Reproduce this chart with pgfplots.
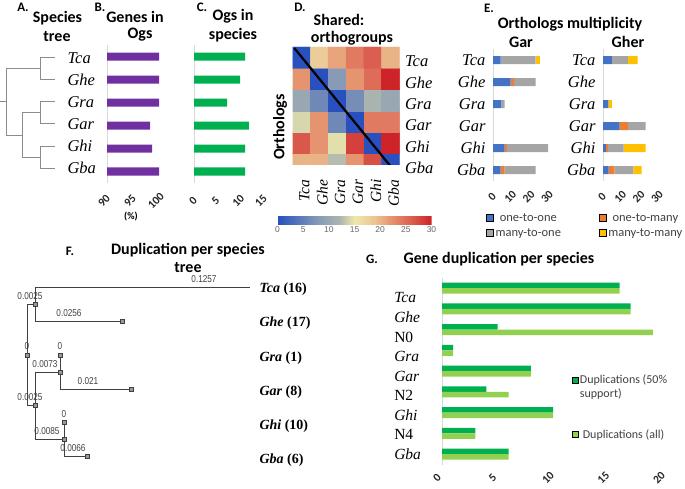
\documentclass[border=0pt]{standalone}
\usepackage{fontspec}
\setmainfont{Liberation Serif}
\newfontfamily\calfont{Carlito}
\newfontfamily\arsfont{Liberation Sans}
\newfontfamily\narrowfont[FakeStretch=0.82]{Liberation Sans}
\usepackage{pgfplots}
\pgfplotsset{compat=1.18}
\definecolor{purp}{HTML}{7030A0}
\definecolor{dgreen}{HTML}{00B050}
\definecolor{lgreen}{HTML}{92D050}
\definecolor{eblue}{HTML}{4472C4}
\definecolor{eorange}{HTML}{ED7D31}
\definecolor{egray}{HTML}{A5A5A5}
\definecolor{eyellow}{HTML}{FFC000}
\newcommand\ttl{\calfont\bfseries\fontsize{16}{18}\selectfont}
\newcommand\lett{\calfont\bfseries\fontsize{13}{15}\selectfont}
\newcommand\spc{\rmfamily\itshape\fontsize{16.5}{18}\selectfont}
\newcommand\tk{\calfont\bfseries\fontsize{11.5}{13}\selectfont}
\newcommand\brl{\narrowfont\fontsize{10}{12}\selectfont}
\newcommand\fsp{\rmfamily\bfseries\fontsize{14}{16}\selectfont}
\newcommand\lgf{\calfont\fontsize{12.5}{15}\selectfont}

\pgfplotsset{
 canvas/.style={at={(0pt,0pt)}, anchor=south west, scale only axis, width=685pt, height=488pt,
   xmin=0, xmax=685, ymin=0, ymax=488, y dir=reverse, hide axis, clip=false},
 lcanvas/.style={at={(0pt,0pt)}, anchor=south west, scale only axis, width=685pt, height=488pt,
   xmin=0, xmax=1, ymin=0, ymax=1, hide axis, clip=false},
 bars/.style={anchor=south west, scale only axis, ymin=-0.5, ymax=5.5, ytick=\empty,
   axis x line*=bottom, axis y line*=left, x axis line style={draw=none},
   y axis line style={draw=black!15, line width=0.7pt}, tick style={draw=none},
   /pgf/number format/assume math mode=true},
 tklbl/.style 2 args={xticklabel style={font=\tk, text=black!85, xshift=#1, yshift=#2, rotate=45, anchor=center}},
}

\begin{document}
\begin{tikzpicture}
\useasboundingbox (0,0) rectangle (685pt,488pt);

% ---------- canvas: trees and titles ----------
\begin{axis}[canvas]
% tree A
\addplot[black!45, line width=0.9pt] coordinates {(55,57.3) (40,57.3) (40,79.3) (55,79.3)};
\addplot[black!45, line width=0.9pt] coordinates {(40,68) (6,68) (6,135) (22.7,135)};
\addplot[black!45, line width=0.9pt] coordinates {(55,101.7) (40,101.7) (40,123.3) (55,123.3)};
\addplot[black!45, line width=0.9pt] coordinates {(40,112.5) (22.7,112.5) (22.7,157) (40,157)};
\addplot[black!45, line width=0.9pt] coordinates {(55,146) (40,146) (40,168) (55,168)};
\addplot[black!45, line width=0.9pt] coordinates {(0,101.7) (6,101.7)};
% tree F
\addplot[black!75, line width=0.9pt] coordinates {(250,287) (35,287) (35,321) (122,321)};
\addplot[black!75, line width=0.9pt] coordinates {(35,304) (27,304) (27,405) (35,405)};
\addplot[black!75, line width=0.9pt] coordinates {(60,372) (35,372) (35,439) (64,439)};
\addplot[black!75, line width=0.9pt] coordinates {(60,355) (60,389) (131,389)};
\addplot[black!75, line width=0.9pt] coordinates {(64,422) (64,456) (87,456)};
\addplot[only marks, mark=square*, mark size=2.2pt, mark options={fill=black!40, draw=black!75, line width=0.5pt}]
  coordinates {(35,304) (122,321) (27,355) (60,355) (60,372) (131,389) (35,405) (64,422) (64,439) (87,456)};
% branch labels F
\node[font=\brl, text=black!75] at (axis cs:204,279) {0.1257};
\node[font=\brl, text=black!75] at (axis cs:30,296) {0.0025};
\node[font=\brl, text=black!75] at (axis cs:69,313) {0.0256};
\node[font=\brl, text=black!75] at (axis cs:27,346) {0};
\node[font=\brl, text=black!75] at (axis cs:60,346) {0};
\node[font=\brl, text=black!75] at (axis cs:45,364) {0.0073};
\node[font=\brl, text=black!75] at (axis cs:88,381) {0.021};
\node[font=\brl, text=black!75] at (axis cs:30,397) {0.0025};
\node[font=\brl, text=black!75] at (axis cs:64,414) {0};
\node[font=\brl, text=black!75] at (axis cs:47,431) {0.0085};
\node[font=\brl, text=black!75] at (axis cs:73,448) {0.0066};
% species labels F
\node[font=\fsp, anchor=west] at (axis cs:256,289) {\textit{Tca} (16)};
\node[font=\fsp, anchor=west] at (axis cs:256,323) {\textit{Ghe} (17)};
\node[font=\fsp, anchor=west] at (axis cs:256,358) {\textit{Gra} (1)};
\node[font=\fsp, anchor=west] at (axis cs:256,392) {\textit{Gar} (8)};
\node[font=\fsp, anchor=west] at (axis cs:256,426) {\textit{Ghi} (10)};
\node[font=\fsp, anchor=west] at (axis cs:256,460) {\textit{Gba} (6)};
% species labels A
\node[font=\spc, anchor=west] at (axis cs:64,58) {Tca};
\node[font=\spc, anchor=west] at (axis cs:64,80) {Ghe};
\node[font=\spc, anchor=west] at (axis cs:64,102) {Gra};
\node[font=\spc, anchor=west] at (axis cs:64,124) {Gar};
\node[font=\spc, anchor=west] at (axis cs:64,146) {Ghi};
\node[font=\spc, anchor=west] at (axis cs:64,168) {Gba};
% titles
\node[font=\lett] at (axis cs:23,7) {A.};
\node[font=\ttl] at (axis cs:57.5,18) {Species};
\node[font=\ttl] at (axis cs:57,37) {tree};
\node[font=\lett] at (axis cs:100,7) {B.};
\node[font=\ttl] at (axis cs:135,17) {Genes in};
\node[font=\ttl] at (axis cs:140,35) {Ogs};
\node[font=\calfont\bfseries\fontsize{10}{12}\selectfont] at (axis cs:131,217) {(\%)};
\node[font=\lett] at (axis cs:202,7) {C.};
\node[font=\ttl] at (axis cs:233,16) {Ogs in};
\node[font=\ttl] at (axis cs:233,35) {species};
\node[font=\lett] at (axis cs:300,7) {D.};
\node[font=\ttl] at (axis cs:339,20) {Shared:};
\node[font=\ttl] at (axis cs:352,38) {orthogroups};
\node[font=\ttl, rotate=90] at (axis cs:280,127) {Orthologs};
\node[font=\lett] at (axis cs:489,8) {E.};
\node[font=\ttl] at (axis cs:570,24) {Orthologs multiplicity};
\node[font=\ttl] at (axis cs:521,42) {Gar};
\node[font=\ttl] at (axis cs:628,42) {Gher};
\node[font=\lett] at (axis cs:70,251) {F.};
\node[font=\ttl] at (axis cs:188,250) {Duplication per species};
\node[font=\ttl] at (axis cs:188,268) {tree};
\node[font=\lett] at (axis cs:372,259) {G.};
\node[font=\ttl] at (axis cs:499,259) {Gene duplication per species};
\end{axis}

% ---------- B ----------
\begin{axis}[bars, xbar, tklbl={-3pt}{-18pt}, at={(107pt,305pt)}, width=52pt, height=138pt, xmin=90, xmax=100,
  xtick={90,95,100}, bar width=8pt]
\addplot[fill=purp, draw=none] coordinates {(100,5) (100,4) (100,3) (98.3,2) (98.7,1) (100,0)};
\end{axis}

% ---------- C ----------
\begin{axis}[bars, xbar, tklbl={-1pt}{-18pt}, at={(194pt,305pt)}, width=68pt, height=138pt, xmin=0, xmax=15,
  xtick={0,5,10,15}, bar width=8pt]
\addplot[fill=dgreen, draw=none] coordinates {(11.3,5) (10.2,4) (7.3,3) (12.1,2) (11.3,1) (11.3,0)};
\end{axis}

% ---------- D heatmap ----------
\begin{axis}[at={(292.5pt,323pt)}, anchor=south west, scale only axis, width=107pt, height=118pt,
  xmin=-0.5, xmax=5.5, ymin=-0.05, ymax=5.5,
  axis line style={draw=none}, tick style={draw=none},
  xtick={0,...,5}, xticklabels={Tca,Ghe,Gra,Gar,Ghi,Gba},
  ytick={0,...,5}, yticklabels={Gba,Ghi,Gar,Gra,Ghe,Tca}, yticklabel pos=right,
  xticklabel style={font=\rmfamily\itshape\fontsize{15.5}{17}\selectfont, xshift=3pt, yshift=-11pt, rotate=90, anchor=east},
  yticklabel style={font=\spc, anchor=west, yshift=-4pt, xshift=2pt},
  colormap={hm}{rgb255(0cm)=(40,80,190) rgb255(8cm)=(135,155,182) rgb255(12cm)=(170,180,175)
    rgb255(15cm)=(238,232,172) rgb255(19cm)=(236,195,145) rgb255(22cm)=(230,148,112)
    rgb255(26cm)=(218,95,80) rgb255(30cm)=(206,35,40)},
  point meta min=0, point meta max=30,
  colorbar horizontal,
  colorbar style={at={(parent axis.south west)}, anchor=north west, xshift=-15pt, yshift=-43pt,
    scale only axis, width=154pt, height=8pt, xtick={0,5,...,30},
    axis line style={draw=none}, tick style={draw=none},
    xticklabel style={font=\arsfont\fontsize{8.5}{10}\selectfont, text=black!60, yshift=1.5pt},
    /pgf/number format/assume math mode=true},
]
\addplot[matrix plot*, mesh/cols=6, point meta=explicit] table[meta=C] {
x y C
0 0 20
1 0 20
2 0 12.5
3 0 22
4 0 27
5 0 0
0 1 26.5
1 1 22
2 1 14.5
3 1 28
4 1 0
5 1 30
0 2 14
1 2 22
2 2 6
3 2 0
4 2 24
5 2 24
0 3 10
1 3 6
2 3 0
3 3 6.5
4 3 12
5 3 10
0 4 22
1 4 0
2 4 8
3 4 22
4 4 25
5 4 30
0 5 0
1 5 18
2 5 21
3 5 24
4 5 26
5 5 20
};
\addplot[black, line width=2.2pt] coordinates {(-0.4,5.45) (4.97,-0.08)};
\end{axis}

% ---------- E left (Gar) ----------
\begin{axis}[bars, xbar stacked, tklbl={-1pt}{-16pt}, at={(493pt,307pt)}, width=55pt, height=132pt, xmin=0, xmax=30,
  xtick={0,10,20,30}, bar width=8pt,
  ytick={0,...,5}, yticklabels={Gba,Ghi,Gar,Gra,Ghe,Tca},
  yticklabel style={font=\spc, xshift=-4pt}]
\addplot[fill=eblue, draw=none] coordinates {(4.2,5) (9.6,4) (4.5,3) (0,2) (6.4,1) (4.2,0)};
\addplot[fill=eorange, draw=none] coordinates {(0,5) (1.8,4) (0,3) (0,2) (1.1,1) (2.2,0)};
\addplot[fill=egray, draw=none] coordinates {(19.1,5) (11.8,4) (1.8,3) (0,2) (22.5,1) (16.9,0)};
\addplot[fill=eyellow, draw=none] coordinates {(2.2,5) (0,4) (0,3) (0,2) (0,1) (0,0)};
\end{axis}

% ---------- E right (Gher) ----------
\begin{axis}[bars, xbar stacked, tklbl={-1pt}{-16pt}, at={(603pt,307pt)}, width=55pt, height=132pt, xmin=0, xmax=30,
  xtick={0,10,20,30}, bar width=8pt,
  ytick={0,...,5}, yticklabels={Gba,Ghi,Gar,Gra,Ghe,Tca},
  yticklabel style={font=\spc, xshift=-4pt}]
\addplot[fill=eblue, draw=none] coordinates {(4.9,5) (0,4) (2.9,3) (9.1,2) (1.6,1) (3.1,0)};
\addplot[fill=eorange, draw=none] coordinates {(0,5) (0,4) (0,3) (4.5,2) (1.1,1) (3.1,0)};
\addplot[fill=egray, draw=none] coordinates {(8.7,5) (0,4) (0,3) (9.6,2) (8.5,1) (10.4,0)};
\addplot[fill=eyellow, draw=none] coordinates {(5.3,5) (0,4) (2.0,3) (0,2) (12,1) (4.5,0)};
\end{axis}

% ---------- E legend ----------
\begin{axis}[lcanvas, legend columns=2,
  legend image code/.code={\fill[#1] (0pt,-3.5pt) rectangle (7pt,3.5pt);},
  legend style={at={(0.7095,0.5676)}, anchor=north west, draw=none, fill=none, inner sep=0pt,
    text=black!75, row sep=1.5pt,
    /tikz/every even column/.append style={column sep=36pt}}]
\addlegendimage{fill=eblue}\addlegendentry{\lgf one-to-one}
\addlegendimage{fill=eorange}\addlegendentry{\lgf one-to-many}
\addlegendimage{fill=egray}\addlegendentry{\lgf many-to-one}
\addlegendimage{fill=eyellow}\addlegendentry{\lgf many-to-many}
\end{axis}

% ---------- G ----------
\begin{axis}[bars, xbar, tklbl={-5pt}{-13.5pt}, at={(442pt,23.4pt)}, width=222pt, height=187pt, xmin=0, xmax=20,
  ymin=-0.5, ymax=8.5, xtick={0,5,...,20}, bar width=5.5pt,
  ytick={-0.02,0.93,1.87,2.81,3.75,4.69,5.64,6.58,7.52},
  yticklabels={\textit{Gba},N4,\textit{Ghi},N2,\textit{Gar},\textit{Gra},N0,\textit{Ghe},\textit{Tca}},
  yticklabel style={font=\rmfamily\fontsize{15.5}{17}\selectfont, anchor=west, xshift=-47pt}]
\addplot[fill=dgreen, draw=none, bar shift=2.75pt] coordinates {(16,8) (17,7) (5,6) (1,5) (8,4) (4,3) (10,2) (3,1) (6,0)};
\addplot[fill=lgreen, draw=none, bar shift=-2.75pt] coordinates {(16,8) (17,7) (19,6) (1,5) (8,4) (6,3) (10,2) (3,1) (6,0)};
\end{axis}

% ---------- G legend ----------
\begin{axis}[lcanvas,
  legend image code/.code={\fill[#1] (0pt,-3pt) rectangle (6pt,3pt);},
  legend style={at={(0.834,0.236)}, anchor=north west, draw=none, fill=none, inner sep=0pt,
    text=black!75, row sep=40pt}]
\addlegendimage{fill=dgreen}\addlegendentry{\calfont\fontsize{12}{14}\selectfont\vtop{\hbox{Duplications (50\%}\hbox{support)}}}
\addlegendimage{fill=lgreen}\addlegendentry{\calfont\fontsize{12}{14}\selectfont Duplications (all)}
\end{axis}
\end{tikzpicture}
\end{document}
